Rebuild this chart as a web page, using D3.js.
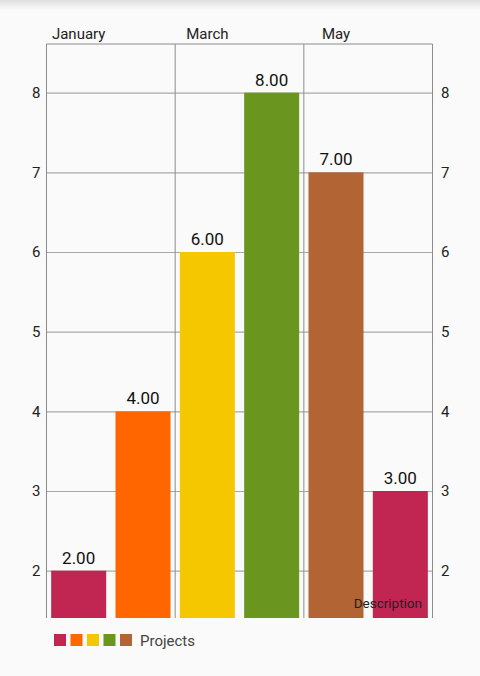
<!DOCTYPE html>
<html>
<head>
<meta charset="utf-8">
<script src="https://cdn.jsdelivr.net/npm/d3@7"></script>
<style>
  body { margin: 0; background: #fafafa; }
  text { font-family: Roboto, "Noto Sans", sans-serif; }
</style>
</head>
<body>
<div id="chart"></div>
<script>
(function() {
  // data
  var months = ['January', 'February', 'March', 'April', 'May', 'June']
  var values = [2, 4, 6, 8, 7, 3]
  var colors = ['#c12552', '#ff6600', '#f5c700', '#6a961f', '#b36435']
  var yTicks = [2, 3, 4, 5, 6, 7, 8]
  var datasetLabel = 'Projects'
  var description = 'Description'

  var W = 480, H = 676
  var plot = { left: 46.5, right: 432.5, top: 44, bottom: 618 }

  var svg = d3.select('#chart')
    .append('svg')
    .attr('width', W)
    .attr('height', H)

  // action bar shadow at the top
  var grad = svg.append('defs').append('linearGradient')
    .attr('id', 'shadow').attr('x1', 0).attr('y1', 0).attr('x2', 0).attr('y2', 1)
  grad.append('stop').attr('offset', '0%').attr('stop-color', '#dedede')
  grad.append('stop').attr('offset', '100%').attr('stop-color', '#fafafa')
  svg.append('rect').attr('width', W).attr('height', 10).attr('fill', 'url(#shadow)')

  var xScale = d3.scaleBand()
    .domain(d3.range(values.length))
    .range([plot.left, plot.right])
    .paddingInner(0.145)
    .paddingOuter(0.0725)

  var yScale = d3.scaleLinear()
    .domain([1.406, 8.611])
    .range([plot.bottom, plot.top])

  // horizontal grid lines
  svg.append('g')
    .attr('class', 'grid')
    .attr('transform', `translate(${plot.left},0)`)
    .call(d3.axisLeft(yScale).tickValues(yTicks).tickSize(-(plot.right - plot.left)).tickFormat(''))
    .call(g => g.select('.domain').remove())
    .call(g => g.selectAll('line').attr('stroke', '#a8a8a8').attr('stroke-width', 1.2))

  // vertical grid lines at the left edge of each labelled slot + right edge
  var step = xScale.step()
  var vLines = [0, 2, 4, 6].map(i => plot.left + i * step)
  svg.append('g')
    .selectAll('line')
    .data(vLines)
    .join('line')
    .attr('x1', d => d).attr('x2', d => d)
    .attr('y1', plot.top).attr('y2', plot.bottom)
    .attr('stroke', '#8c8c8c')
    .attr('stroke-width', 1)

  // top axis line
  svg.append('line')
    .attr('x1', plot.left).attr('x2', plot.right)
    .attr('y1', plot.top).attr('y2', plot.top)
    .attr('stroke', '#8c8c8c')

  // bars
  svg.append('g')
    .selectAll('rect')
    .data(values)
    .join('rect')
    .attr('x', (d, i) => xScale(i))
    .attr('width', xScale.bandwidth())
    .attr('y', d => yScale(d))
    .attr('height', d => plot.bottom - yScale(d))
    .attr('fill', (d, i) => colors[i % colors.length])

  // value labels
  svg.append('g')
    .selectAll('text')
    .data(values)
    .join('text')
    .attr('x', (d, i) => xScale(i) + xScale.bandwidth() / 2)
    .attr('y', d => yScale(d) - 7)
    .attr('text-anchor', 'middle')
    .attr('font-size', 17)
    .attr('fill', '#111')
    .text(d => d.toFixed(2))

  // x axis labels on top, every other month
  svg.append('g')
    .attr('transform', `translate(0,${plot.top})`)
    .call(d3.axisTop(xScale)
      .tickValues([0, 2, 4])
      .tickSize(0)
      .tickPadding(5)
      .tickFormat(i => months[i]))
    .call(g => g.select('.domain').remove())
    .call(g => g.selectAll('text')
      .attr('font-size', 15)
      .attr('font-family', 'Roboto')
      .attr('fill', '#222'))

  // y axis labels left and right
  svg.append('g')
    .attr('transform', `translate(${plot.left},0)`)
    .call(d3.axisLeft(yScale).tickValues(yTicks).tickSize(0).tickPadding(6).tickFormat(d3.format('d')))
    .call(g => g.select('.domain').remove())
    .call(g => g.selectAll('text')
      .attr('font-size', 15)
      .attr('font-family', 'Roboto')
      .attr('fill', '#222'))

  svg.append('g')
    .attr('transform', `translate(${plot.right},0)`)
    .call(d3.axisRight(yScale).tickValues(yTicks).tickSize(0).tickPadding(8.5).tickFormat(d3.format('d')))
    .call(g => g.select('.domain').remove())
    .call(g => g.selectAll('text')
      .attr('font-size', 15)
      .attr('font-family', 'Roboto')
      .attr('fill', '#222'))

  // description
  svg.append('text')
    .attr('x', 422)
    .attr('y', 608)
    .attr('text-anchor', 'end')
    .attr('font-size', 13.5)
    .attr('fill', '#222')
    .text(description)

  // legend
  var legend = svg.append('g').attr('transform', 'translate(54,634)')
  legend.selectAll('rect')
    .data(colors)
    .join('rect')
    .attr('x', (d, i) => i * 16.5)
    .attr('width', 12)
    .attr('height', 12)
    .attr('fill', d => d)

  legend.append('text')
    .attr('x', colors.length * 16.5 + 3.5)
    .attr('y', 12)
    .attr('font-size', 15)
    .attr('fill', '#444')
    .text(datasetLabel)
})()
</script>
</body>
</html>
